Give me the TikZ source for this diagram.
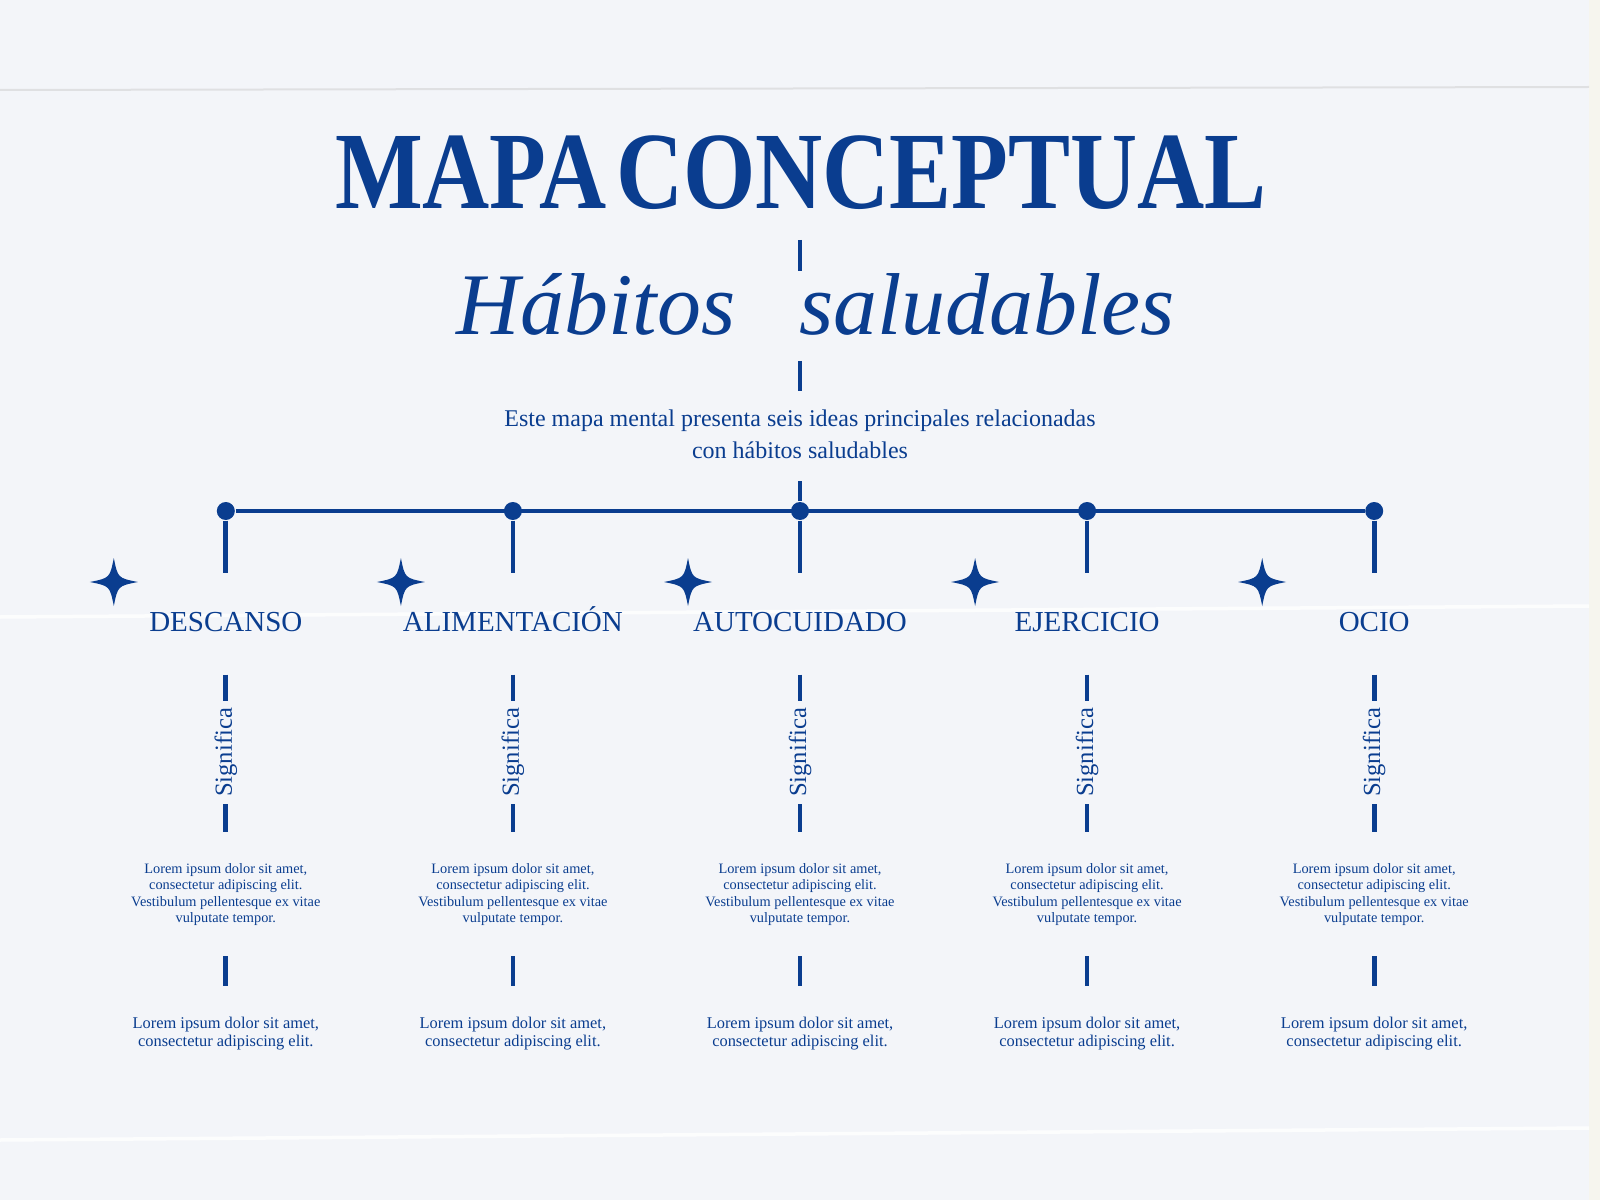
\documentclass[tikz,border=0pt]{standalone}
\usepackage{fontspec}
\setmainfont{Liberation Serif}
\usetikzlibrary{positioning}
\definecolor{ink}{RGB}{10,61,143}
\definecolor{paper}{RGB}{243,245,249}
\definecolor{edge}{RGB}{246,245,238}

\begin{document}
\begin{tikzpicture}[x=0.1mm, y=-0.1mm, node distance=28.71mm,
  every node/.style={text=ink, inner sep=0pt},
  link/.style={draw=ink, line width=0.47mm},
  fold/.style={draw=gray!40, line width=0.2mm, opacity=0.5},
  crease/.style={draw=white, line width=0.35mm, opacity=0.8},
  joint/.style={circle, fill=ink, minimum size=1.8mm, inner sep=0pt},
  cat/.style={anchor=base, font=\fontsize{8.25}{10}\selectfont, text height=2mm, text depth=0pt},
  sig/.style={rotate=90, fill=paper, minimum width=10.3mm, font=\fontsize{7}{8}\selectfont},
  defn/.style={anchor=north, align=center, font=\fontsize{4.08}{4.65}\selectfont},
  note/.style={anchor=north, align=center, font=\fontsize{4.67}{5.12}\selectfont},
  spark/.pic={\fill[ink] (0,-24) .. controls (4,-4) .. (24,0) .. controls (4,4) .. (0,24) .. controls (-4,4) .. (-24,0) .. controls (-4,-4) .. cycle;}]
  \useasboundingbox (0,0) rectangle (1600,1200);
  % paper
  \fill[paper] (0,0) rectangle (1600,1200);
  \fill[edge] (1589,0) rectangle (1600,1200);
  \draw[fold] (0,90) -- (1589,87);
  \draw[crease] (0,617) -- (1589,606);
  \draw[crease] (0,1140) -- (1589,1128);
  % heading
  \node[anchor=base, font=\bfseries\fontsize{31.3}{32}\selectfont] (title) at (801,209) {\scalebox{0.845}[1]{MAPA\hspace{0.1em}CONCEPTUAL}};
  \node[anchor=base, font=\itshape\fontsize{25}{26}\selectfont] (motto) at (816,335) {Hábitos\hspace{6.4mm}saludables};
  \node[anchor=north, align=center, font=\fontsize{6.83}{9.1}\selectfont] (intro) at (800,409) {Este mapa mental presenta seis ideas principales relacionadas\\con hábitos saludables};
  \coordinate (t1) at (800,240);
  \coordinate (t2) at (800,271);
  \coordinate (t3) at (800,361);
  \coordinate (t4) at (800,391);
  \draw[link] (t1) -- (t2);
  \draw[link] (t3) -- (t4);
  % joints
  \node[joint] (hub) at (800,511) {};
  \node[joint, left of=hub] (jalim) {};
  \node[joint, left of=jalim] (jdesc) {};
  \node[joint, right of=hub] (jejer) {};
  \node[joint, right of=jejer] (jocio) {};
  \draw[link, shorten <=2.2mm] (intro) -- (hub);
  \draw[link] (jdesc) -- (jocio);
  % categories
  \node[below of=jdesc, node distance=12.1mm, cat] (descanso) {DESCANSO};
  \node[below of=jalim, node distance=12.1mm, cat] (alimentacion) {ALIMENTACIÓN};
  \node[below of=hub, node distance=12.1mm, cat] (autocuidado) {AUTOCUIDADO};
  \node[below of=jejer, node distance=12.1mm, cat] (ejercicio) {EJERCICIO};
  \node[below of=jocio, node distance=12.1mm, cat] (ocio) {OCIO};
  \path (jdesc) ++(-112,71) pic {spark};
  \path (jalim) ++(-112,71) pic {spark};
  \path (hub) ++(-112,71) pic {spark};
  \path (jejer) ++(-112,71) pic {spark};
  \path (jocio) ++(-112,71) pic {spark};
  % texts
  \node[below of=jdesc, node distance=35.2mm, defn] (def1) {Lorem ipsum dolor sit amet,\\consectetur adipiscing elit.\\Vestibulum pellentesque ex vitae\\vulputate tempor.};
  \node[below of=jalim, node distance=35.2mm, defn] (def2) {Lorem ipsum dolor sit amet,\\consectetur adipiscing elit.\\Vestibulum pellentesque ex vitae\\vulputate tempor.};
  \node[below of=hub, node distance=35.2mm, defn] (def3) {Lorem ipsum dolor sit amet,\\consectetur adipiscing elit.\\Vestibulum pellentesque ex vitae\\vulputate tempor.};
  \node[below of=jejer, node distance=35.2mm, defn] (def4) {Lorem ipsum dolor sit amet,\\consectetur adipiscing elit.\\Vestibulum pellentesque ex vitae\\vulputate tempor.};
  \node[below of=jocio, node distance=35.2mm, defn] (def5) {Lorem ipsum dolor sit amet,\\consectetur adipiscing elit.\\Vestibulum pellentesque ex vitae\\vulputate tempor.};
  \node[below of=jdesc, node distance=50.5mm, note] (note1) {Lorem ipsum dolor sit amet,\\consectetur adipiscing elit.};
  \node[below of=jalim, node distance=50.5mm, note] (note2) {Lorem ipsum dolor sit amet,\\consectetur adipiscing elit.};
  \node[below of=hub, node distance=50.5mm, note] (note3) {Lorem ipsum dolor sit amet,\\consectetur adipiscing elit.};
  \node[below of=jejer, node distance=50.5mm, note] (note4) {Lorem ipsum dolor sit amet,\\consectetur adipiscing elit.};
  \node[below of=jocio, node distance=50.5mm, note] (note5) {Lorem ipsum dolor sit amet,\\consectetur adipiscing elit.};
  % connectors
  \draw[link, shorten >=3.8mm] (jdesc) -- (descanso);
  \draw[link, shorten >=3.8mm] (jalim) -- (alimentacion);
  \draw[link, shorten >=3.8mm] (hub) -- (autocuidado);
  \draw[link, shorten >=3.8mm] (jejer) -- (ejercicio);
  \draw[link, shorten >=3.8mm] (jocio) -- (ocio);
  \draw[link, shorten <=4.2mm, shorten >=3.1mm] (descanso) -- node[sig, pos=0.52] {Significa} (def1);
  \draw[link, shorten <=4.2mm, shorten >=3.1mm] (alimentacion) -- node[sig, pos=0.52] {Significa} (def2);
  \draw[link, shorten <=4.2mm, shorten >=3.1mm] (autocuidado) -- node[sig, pos=0.52] {Significa} (def3);
  \draw[link, shorten <=4.2mm, shorten >=3.1mm] (ejercicio) -- node[sig, pos=0.52] {Significa} (def4);
  \draw[link, shorten <=4.2mm, shorten >=3.1mm] (ocio) -- node[sig, pos=0.52] {Significa} (def5);
  \draw[link, shorten <=3mm, shorten >=3mm] (def1) -- (note1);
  \draw[link, shorten <=3mm, shorten >=3mm] (def2) -- (note2);
  \draw[link, shorten <=3mm, shorten >=3mm] (def3) -- (note3);
  \draw[link, shorten <=3mm, shorten >=3mm] (def4) -- (note4);
  \draw[link, shorten <=3mm, shorten >=3mm] (def5) -- (note5);
\end{tikzpicture}
\end{document}
